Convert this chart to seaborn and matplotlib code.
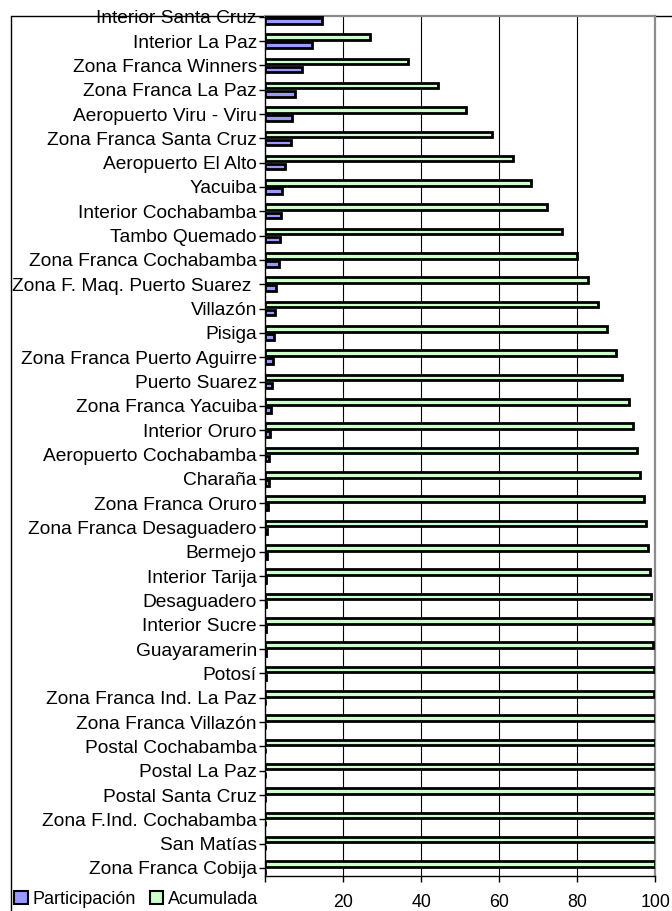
import pandas as pd
import matplotlib
matplotlib.use("Agg")
import matplotlib.pyplot as plt
from matplotlib.lines import Line2D
from matplotlib.patches import Patch
import seaborn as sns

# Datos (porcentajes por aduana)
aduanas = [
    "Interior Santa Cruz", "Interior La Paz", "Zona Franca Winners", "Zona Franca La Paz",
    "Aeropuerto Viru - Viru", "Zona Franca Santa Cruz", "Aeropuerto El Alto", "Yacuiba",
    "Interior Cochabamba", "Tambo Quemado", "Zona Franca Cochabamba", "Zona F. Maq. Puerto Suarez ",
    "Villazón", "Pisiga", "Zona Franca Puerto Aguirre", "Puerto Suarez",
    "Zona Franca Yacuiba", "Interior Oruro", "Aeropuerto Cochabamba", "Charaña",
    "Zona Franca Oruro", "Zona Franca Desaguadero", "Bermejo", "Interior Tarija",
    "Desaguadero", "Interior Sucre", "Guayaramerin", "Potosí",
    "Zona Franca Ind. La Paz", "Zona Franca Villazón", "Postal Cochabamba", "Postal La Paz",
    "Postal Santa Cruz", "Zona F.Ind. Cochabamba", "San Matías", "Zona Franca Cobija",
]
participacion = [
    14.5, 12.0, 9.3, 7.7, 6.8, 6.6, 5.0, 4.3, 4.1, 3.8, 3.5, 2.7,
    2.4, 2.2, 1.9, 1.6, 1.5, 1.2, 1.0, 0.9, 0.8, 0.4, 0.4, 0.3,
    0.2, 0.2, 0.12, 0.08, 0.05, 0.04, 0.03, 0.02, 0.01, 0.01, 0.005, 0.003,
]
acumulada = [
    14.5, 26.8, 36.5, 44.3, 51.4, 58.2, 63.4, 68.0, 72.2, 76.1, 79.9, 82.8,
    85.4, 87.7, 89.8, 91.5, 93.2, 94.4, 95.3, 96.2, 97.2, 97.6, 98.2, 98.6,
    99.0, 99.3, 99.5, 99.65, 99.75, 99.82, 99.88, 99.92, 99.95, 99.97, 99.99, 100.0,
]
x_ticks = [0, 20, 40, 60, 80, 100]
x_labels = ["", "20", "40", "60", "80", "100"]

colores = {"Participación": "#9999FF", "Acumulada": "#CCFFCC"}

df = pd.DataFrame({
    "Aduana": aduanas * 2,
    "Serie": ["Acumulada"] * len(aduanas) + ["Participación"] * len(aduanas),
    "Valor": acumulada + participacion,
})

sns.set_theme(style="white")
plt.rcParams["font.family"] = ["Liberation Sans", "DejaVu Sans"]
plt.rcParams["text.color"] = "black"
plt.rcParams["xtick.color"] = "black"
plt.rcParams["ytick.color"] = "black"
plt.rcParams["axes.labelcolor"] = "black"

W, H = 672, 911
fig = plt.figure(figsize=(W / 100, H / 100), dpi=100)
ax = fig.add_axes([265.3 / W, 1 - 876 / H, (655.3 - 265.3) / W, (876 - 16) / H])

sns.barplot(data=df, y="Aduana", x="Valor", hue="Serie",
            hue_order=["Acumulada", "Participación"], palette=colores,
            orient="h", width=0.66, gap=0.3, edgecolor="black", linewidth=2,
            saturation=1, legend=False, ax=ax, zorder=3)

ax.set_xlim(0, 100)
ax.set_ylim(len(aduanas) - 0.67, -0.03)
ax.set_xticks(x_ticks)
ax.set_xticklabels(x_labels, fontsize=12.8)
ax.tick_params(axis="y", labelsize=13.8, length=4, width=1, color="black", pad=2, left=True)
ax.tick_params(axis="x", length=4, width=1, color="black", pad=9, bottom=True)
ax.set_xlabel("")
ax.set_ylabel("")
for x in x_ticks[1:-1]:
    ax.axvline(x, color="black", linewidth=0.8, zorder=1)

ax.spines["left"].set_color("black")
ax.spines["bottom"].set_color("black")
ax.spines["left"].set_linewidth(1)
ax.spines["bottom"].set_linewidth(1)
for s in ["top", "right"]:
    ax.spines[s].set_color("#8c8c8c")
    ax.spines[s].set_linewidth(1.6)

# marco exterior del gráfico (recortado)
fig.add_artist(Line2D([11 / W, 11 / W], [0, 1 - 16 / H], color="black", linewidth=1, zorder=-1))
fig.add_artist(Line2D([11 / W, 1], [1 - 16 / H, 1 - 16 / H], color="black", linewidth=1, zorder=-1))

handles = [Patch(facecolor=colores[k], edgecolor="black", linewidth=1.5) for k in ["Participación", "Acumulada"]]
fig.legend(handles, ["Participación", "Acumulada"], loc="center left",
           bbox_to_anchor=(14 / W, 1 - 899 / H), ncol=2, frameon=False,
           fontsize=13, handlelength=0.75, handleheight=0.75, handletextpad=0.25,
           columnspacing=0.8, borderpad=0, borderaxespad=0)

fig.savefig("out.png", dpi=100, facecolor="white")
